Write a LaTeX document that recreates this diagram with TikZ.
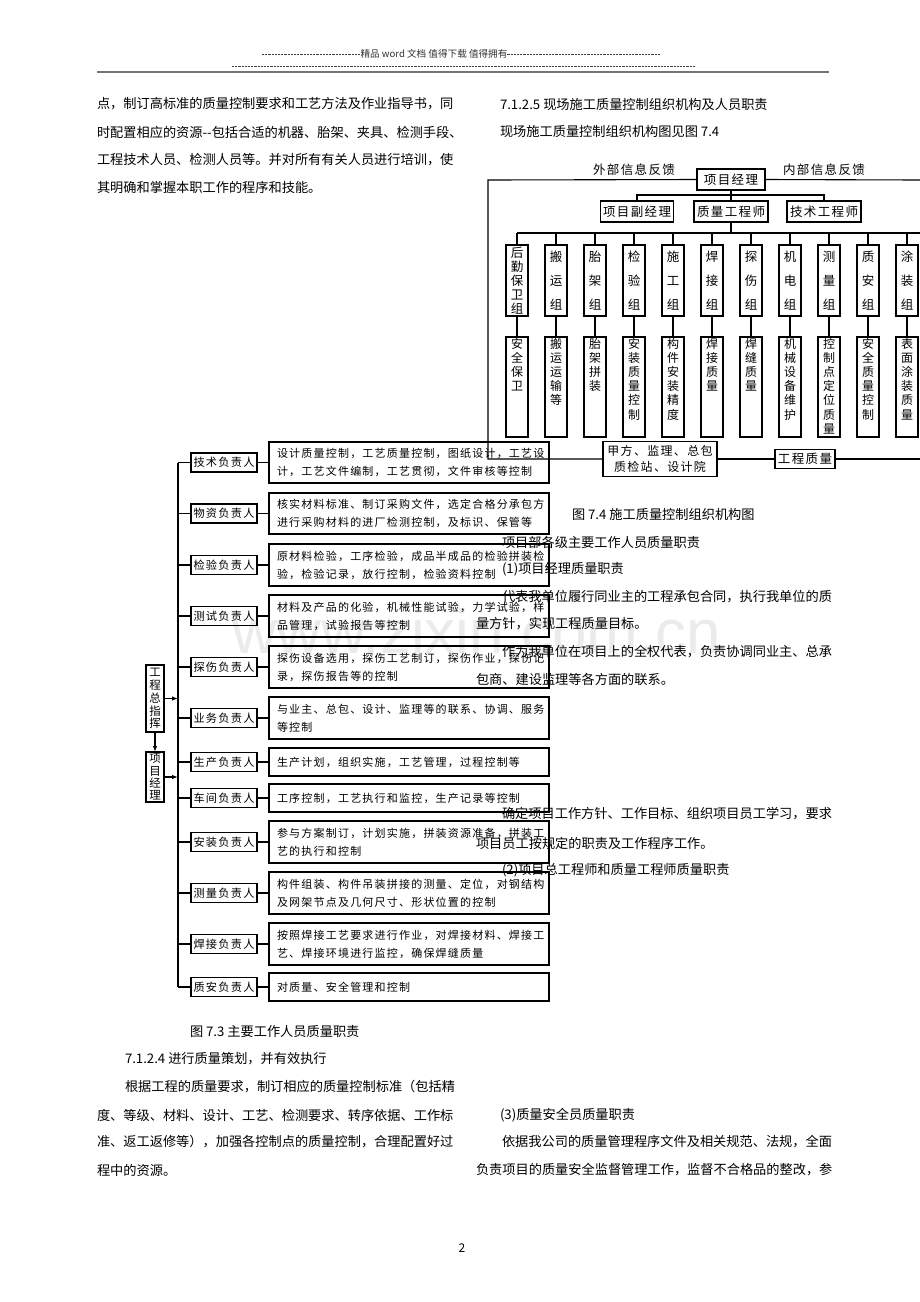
\documentclass[tikz,border=0pt]{standalone}
\usepackage{fontspec}
\setmainfont{Noto Sans CJK SC}
\newfontfamily\cjkls[LetterSpace=11]{Noto Sans CJK SC}
\newfontfamily\wmfont{Liberation Sans}
\usetikzlibrary{arrows.meta}
\begin{document}
\begin{tikzpicture}[x=1pt,y=-1pt,
  every node/.style={inner sep=0pt, outer sep=0pt},
  ln/.style={line width=1.1pt, black},
  bx/.style={draw, line width=1.1pt},
  rb/.style={draw, line width=1.5pt, minimum width=66pt, minimum height=19pt, font=\cjkls\fontsize{11.2}{13}\selectfont},
  db/.style={draw, line width=1.3pt, minimum width=280pt},
  dt/.style={anchor=west, align=left, font=\cjkls\fontsize{11}{18}\selectfont},
  body/.style={anchor=west, font=\fontsize{13.2}{15}\selectfont},
  ch/.style={font=\cjkls\fontsize{12.5}{14}\selectfont},
  dsh/.style={line width=0.6pt, black!75, dash pattern=on 2.2pt off 1pt},
  arr/.style={ln, -{Latex[length=6pt,width=4.5pt]}}
]
\useasboundingbox (0,0) rectangle (920,1302);
\fill[white] (0,0) rectangle (920,1302);

% watermark
\node[anchor=base west, font=\wmfont\fontsize{62}{62}\selectfont, text=black!8] (wm) at (232,653) {www.zixin.com.cn};

% header
\node[font=\fontsize{9.6}{10}\selectfont, text=black!80] (hd) at (434,54) {精品 word 文档 值得下载 值得拥有};
\coordinate (h1) at (262,54); \coordinate (h2) at (660,54);
\coordinate (h3) at (232,66); \coordinate (h4) at (695,66);
\draw[dsh] (h1) -- (hd.west);
\draw[dsh] (hd.east) -- (h2);
\draw[dsh] (h3) -- (h4);
\coordinate (h5) at (97,72); \coordinate (h6) at (829,72);
\draw[line width=2pt, black!55] (h5) -- (h6);

% body text
\node[body] (p1) at (97,104) {点，制订高标准的质量控制要求和工艺方法及作业指导书，同};
\node[body] (p2) at (97,132) {时配置相应的资源-{}-包括合适的机器、胎架、夹具、检测手段、};
\node[body] (p3) at (97,160) {工程技术人员、检测人员等。并对所有有关人员进行培训，使};
\node[body] (p4) at (97,187) {其明确和掌握本职工作的程序和技能。};
\node[body] (q1) at (500,104) {7.1.2.5 现场施工质量控制组织机构及人员职责};
\node[body] (q2) at (500,131) {现场施工质量控制组织机构图见图 7.4};
\node[body] (c74) at (572,514) {图 7.4 施工质量控制组织机构图};
\node[body] (q3) at (502,542) {项目部各级主要工作人员质量职责};
\node[body] (q4) at (502,569) {(1)项目经理质量职责};
\node[body] (q5) at (502,597) {代表我单位履行同业主的工程承包合同，执行我单位的质};
\node[body] (q6) at (476,624) {量方针，实现工程质量目标。};
\node[body] (q7) at (502,652) {作为我单位在项目上的全权代表，负责协调同业主、总承};
\node[body] (q8) at (476,679) {包商、建设监理等各方面的联系。};
\node[body] (q9) at (502,814) {确定项目工作方针、工作目标、组织项目员工学习，要求};
\node[body] (q10) at (476,843) {项目员工按规定的职责及工作程序工作。};
\node[body] (q11) at (502,870) {(2)项目总工程师和质量工程师质量职责};
\node[body] (c73) at (190,1031) {图 7.3 主要工作人员质量职责};
\node[body] (b1t) at (125,1059) {7.1.2.4 进行质量策划，并有效执行};
\node[body] (b2t) at (125,1087) {根据工程的质量要求，制订相应的质量控制标准（包括精};
\node[body] (b3t) at (97,1115) {度、等级、材料、设计、工艺、检测要求、转序依据、工作标};
\node[body] (b4t) at (97,1142) {准、返工返修等），加强各控制点的质量控制，合理配置好过};
\node[body] (b5t) at (97,1170) {程中的资源。};
\node[body] (r1t) at (500,1115) {(3)质量安全员质量职责};
\node[body] (r2t) at (502,1142) {依据我公司的质量管理程序文件及相关规范、法规，全面};
\node[body] (r3t) at (476,1170) {负责项目的质量安全监督管理工作，监督不合格品的整改，参};
\node[font=\fontsize{12}{12}\selectfont] (pg) at (462,1248) {2};

% ===== Fig 7.4 =====
\node[bx, ch, minimum width=68, minimum height=21] (pm) at (731,179.5) {项目经理};
\node[ch] (ext) at (634,170) {外部信息反馈};
\node[ch] (int) at (824,170) {内部信息反馈};
\node[bx, ch, minimum width=73, minimum height=21] (s1) at (637,211.5) {项目副经理};
\node[bx, ch, minimum width=74, minimum height=21] (s2) at (731,211.5) {质量工程师};
\node[bx, ch, minimum width=74, minimum height=21] (s3) at (824,211.5) {技术工程师};
\coordinate (b1) at (731,195);
\coordinate (b2) at (731,233);
\draw[ln] (pm.south) -- (b1);
\draw[ln] (s1.north) -- (s1.north |- b1) -- (s3.north |- b1) -- (s3.north);
\draw[ln] (s2.north) -- (s2.north |- b1);
\draw[ln] (s2.south) -- (b2);

\foreach \i/\x/\a/\b/\s in {
  1/517/{后\\勤\\保\\卫\\组}/{安\\全\\保\\卫}/14,
  2/556/{搬\\运\\组}/{搬\\运\\运\\输\\等}/24,
  3/595/{胎\\架\\组}/{胎\\架\\拼\\装}/24,
  4/634/{检\\验\\组}/{安\\装\\质\\量\\控\\制}/24,
  5/673/{施\\工\\组}/{构\\件\\安\\装\\精\\度}/24,
  6/712/{焊\\接\\组}/{焊\\接\\质\\量}/24,
  7/751/{探\\伤\\组}/{焊\\缝\\质\\量}/24,
  8/790/{机\\电\\组}/{机\\械\\设\\备\\维\\护}/24,
  9/829/{测\\量\\组}/{控\\制\\点\\定\\位\\质\\量}/24,
  10/868/{质\\安\\组}/{安\\全\\质\\量\\控\\制}/24,
  11/907/{涂\\装\\组}/{表\\面\\涂\\装\\质\\量}/24}{
  \node[bx, minimum width=22, minimum height=71, align=center, font=\fontsize{12.5}{\s}\selectfont] (g\i) at (\x,280.5) {\a};
  \node[bx, minimum width=22, minimum height=100] (l\i) at (\x,387) {};
  \node[anchor=north, align=center, font=\fontsize{12}{14.2}\selectfont] (t\i) at (\x,338) {\b};
  \draw[ln] (g\i.north |- b2) -- (g\i.north);
  \draw[ln] (g\i.south) -- (l\i.north);
}
\coordinate (R2) at (920,233);
\draw[ln] (g1.north |- b2) -- (R2);

\node[bx, minimum width=114, minimum height=35, align=center, font=\cjkls\fontsize{12}{16}\selectfont] (jf) at (660,459) {甲方、监理、总包\\质检站、设计院};
\node[bx, ch, minimum width=60, minimum height=19] (gc) at (805,459) {工程质量};
\coordinate (R1) at (920,180);
\coordinate (L1) at (488,180);
\coordinate (R3) at (920,459);
\draw[ln] (pm.east) -- (R1);
\draw[ln] (pm.west) -- (L1) |- (jf.west);
\draw[ln] (jf.east) -- (gc.west);
\draw[ln] (gc.east) -- (R3);

% ===== Fig 7.3 =====
\coordinate (B) at (178,0);
\foreach \i/\y/\h/\ro/\tx in {
  1/462.5/41/技术负责人/{设计质量控制，工艺质量控制，图纸设计，工艺设\\计，工艺文件编制，工艺贯彻，文件审核等控制},
  2/513.5/41/物资负责人/{核实材料标准、制订采购文件，选定合格分承包方\\进行采购材料的进厂检测控制，及标识、保管等},
  3/565/42/检验负责人/{原材料检验，工序检验，成品半成品的检验拼装检\\验，检验记录，放行控制，检验资料控制},
  4/616/42/测试负责人/{材料及产品的化验，机械性能试验，力学试验，样\\品管理，试验报告等控制},
  5/667/42/探伤负责人/{探伤设备选用，探伤工艺制订，探伤作业，探伤记\\录，探伤报告等的控制},
  6/718/42/业务负责人/{与业主、总包、设计、监理等的联系、协调、服务\\等控制},
  7/762/28/生产负责人/{生产计划，组织实施，工艺管理，过程控制等},
  8/798/28/车间负责人/{工序控制，工艺执行和监控，生产记录等控制},
  9/842/42/安装负责人/{参与方案制订，计划实施，拼装资源准备，拼装工\\艺的执行和控制},
  10/893/42/测量负责人/{构件组装、构件吊装拼接的测量、定位，对钢结构\\及网架节点及几何尺寸、形状位置的控制},
  11/944/42/焊接负责人/{按照焊接工艺要求进行作业，对焊接材料、焊接工\\艺、焊接环境进行监控，确保焊缝质量},
  12/987/28/质安负责人/{对质量、安全管理和控制}}{
  \node[rb] (r\i) at (224,\y) {\ro};
  \node[db, minimum height=\h] (d\i) at (409,\y) {};
  \node[dt] (e\i) at (277,\y) {\tx};
  \draw[ln, line width=1.3pt] (r\i.west -| B) -- (r\i.west);
  \draw[ln, line width=1.3pt] (r\i.east) -- (d\i.west);
}
\draw[ln, line width=1.3pt] (r1.west -| B) -- (r12.west -| B);

\node[bx, minimum width=18, minimum height=67, align=center, font=\fontsize{11.5}{12.8}\selectfont] (zz) at (155,698.5) {工\\程\\总\\指\\挥};
\node[bx, minimum width=18, minimum height=50, align=center, font=\fontsize{11.5}{12.3}\selectfont] (pm2) at (155,777) {项\\目\\经\\理};
\draw[arr] (zz.east) -- (zz.east -| B);
\draw[arr] (pm2.east) -- (pm2.east -| B);
\draw[arr] (zz.south) -- (pm2.north);
\end{tikzpicture}
\end{document}
